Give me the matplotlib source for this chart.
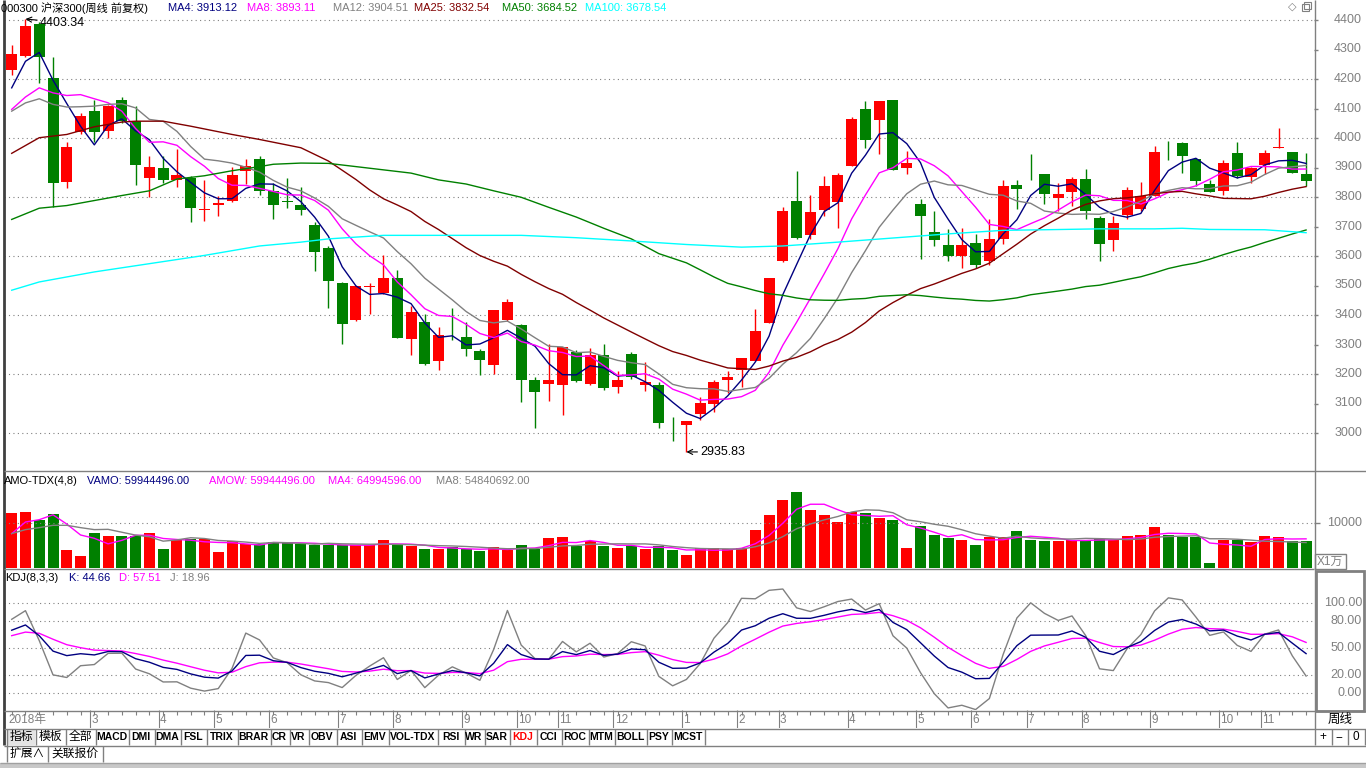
import numpy as np
import matplotlib
matplotlib.use('Agg')
import matplotlib.pyplot as plt
from matplotlib.patches import Rectangle

plt.rcParams['font.family'] = ['Liberation Sans', 'Noto Sans CJK SC', 'DejaVu Sans']

W, H = 1366, 768

# weekly bars, 000300 沪深300
opens = [4231, 4279, 4386, 4204, 3852, 4020, 4093, 4024, 4130, 4057,
         3865, 3898, 3856, 3866, 3757, 3774, 3788, 3889, 3928, 3820,
         3786, 3773, 3706, 3628, 3510, 3382, 3495, 3476, 3524, 3319,
         3375, 3245, 3344, 3325, 3278, 3232, 3383, 3365, 3180, 3167,
         3164, 3273, 3167, 3263, 3157, 3267, 3162, 3163, 3021, 3026,
         3063, 3100, 3178, 3212, 3245, 3374, 3582, 3785, 3670, 3757,
         3782, 3906, 4100, 4061, 4128, 3899, 3776, 3680, 3638, 3599,
         3645, 3582, 3658, 3840, 3900, 3878, 3798, 3818, 3861, 3729,
         3653, 3740, 3760, 3805, 3981, 3982, 3928, 3844, 3821, 3948,
         3869, 3909, 3966, 3951, 3878]
highs = [4316, 4403.34, 4394, 4274, 3988, 4085, 4130, 4113, 4139, 4108,
         3939, 3939, 3962, 3872, 3857, 3802, 3903, 3928, 3939, 3849,
         3864, 3833, 3715, 3634, 3512, 3497, 3507, 3602, 3554, 3432,
         3402, 3358, 3423, 3375, 3285, 3416, 3454, 3370, 3189, 3301,
         3293, 3282, 3288, 3301, 3209, 3276, 3241, 3172, 3054, 3040,
         3121, 3178, 3209, 3254, 3419, 3524, 3765, 3887, 3807, 3870,
         3880, 4072, 4124, 4124, 4128, 3956, 3793, 3751, 3692, 3696,
         3675, 3726, 3857, 3857, 3945, 3878, 3847, 3869, 3894, 3737,
         3737, 3833, 3852, 3973, 3989, 3987, 3928, 3858, 3925, 3987,
         3903, 3958, 4034, 3951, 3948]
lows = [4215, 4276, 4186, 3765, 3830, 4012, 3986, 4001, 4052, 3840,
        3799, 3847, 3833, 3715, 3720, 3737, 3782, 3844, 3807, 3726,
        3763, 3739, 3548, 3425, 3302, 3380, 3405, 3471, 3321, 3265,
        3232, 3215, 3316, 3262, 3198, 3201, 3378, 3105, 3016, 3108,
        3061, 3173, 3162, 3147, 3134, 3183, 3142, 3016, 2973, 2935.83,
        3044, 3072, 3136, 3155, 3245, 3374, 3578, 3658, 3656, 3737,
        3694, 3906, 3965, 3945, 3892, 3878, 3589, 3634, 3582, 3561,
        3560, 3571, 3642, 3760, 3858, 3776, 3751, 3771, 3724, 3582,
        3616, 3724, 3754, 3805, 3926, 3881, 3838, 3816, 3808, 3866,
        3849, 3878, 3966, 3883, 3838]
closes = [4285, 4380, 4273, 3846, 3968, 4073, 4020, 4110, 4057, 3909,
          3901, 3858, 3874, 3764, 3760, 3778, 3875, 3904, 3821, 3774,
          3784, 3757, 3612, 3515, 3370, 3497, 3497, 3527, 3321, 3409,
          3235, 3332, 3342, 3285, 3248, 3416, 3443, 3178, 3140, 3180,
          3293, 3175, 3264, 3153, 3180, 3189, 3173, 3035, 3020, 3040,
          3101, 3173, 3190, 3254, 3345, 3524, 3753, 3662, 3749, 3837,
          3874, 4063, 3993, 4124, 3892, 3915, 3734, 3653, 3599, 3636,
          3569, 3658, 3837, 3828, 3898, 3810, 3810, 3861, 3751, 3639,
          3712, 3824, 3802, 3952, 3980, 3939, 3854, 3818, 3915, 3872,
          3898, 3950, 3970, 3880, 3855]
# 成交额, 万
amount = [12158, 12302, 10719, 11942, 4101, 2806, 7841, 7122, 7122, 7266,
          7841, 4316, 6259, 6618, 6475, 3741, 6043, 5539, 5539, 5899,
          5899, 5395, 5180, 5180, 5180, 5180, 5180, 6259, 5180, 4964,
          4316, 4316, 4676, 4244, 3957, 4676, 4101, 5180, 4316, 6690,
          6978, 5036, 6043, 5000, 4565, 5000, 4350, 5000, 4130, 3040,
          4565, 4565, 4350, 4565, 8480, 11740, 15000, 16740, 12830, 11740,
          10220, 12390, 12170, 11090, 10650, 4565, 9350, 7390, 6740, 6300,
          5220, 6960, 6960, 8260, 6300, 6090, 6090, 6300, 6300, 6520,
          6300, 7170, 7390, 9130, 7390, 6960, 6960, 1300, 6300, 6300,
          5870, 7170, 6960, 6090, 5994]

# MA values at the left edge (their windows reach before the first bar)
ma4_head = [4170, 4260, 4290]
ma8_head = [4097, 4139, 4170, 4153, 4144, 4147, 4133]
ma12_head = [4091, 4119, 4133, 4114, 4105, 4106, 4108, 4114, 4116, 4102, 4063]
ma25_idx = [0, 2, 4, 6, 8, 9, 11, 13, 16, 18, 21, 23]
ma25_val = [3948, 4001, 4012, 4038, 4054, 4057, 4057, 4040, 4012, 3995, 3967, 3922]
ma50_idx = [0, 2, 4, 6, 8, 10, 12, 14, 16, 18, 19, 21, 23, 25, 27, 29, 31, 33,
            35, 37, 39, 41, 43, 45, 47]
ma50_val = [3724, 3762, 3771, 3788, 3805, 3821, 3861, 3872, 3889, 3903, 3911,
            3915, 3914, 3903, 3892, 3881, 3858, 3844, 3821, 3799, 3765, 3732,
            3694, 3658, 3608]
ma100_idx = [0, 2, 6, 10, 14, 18, 21, 23, 25, 27, 29, 33, 37, 41, 45, 49, 53,
             56, 60, 64, 68, 72, 75, 79, 83, 85, 87, 91, 94]
ma100_val = [3484, 3512, 3546, 3574, 3602, 3634, 3647, 3658, 3664, 3670, 3670,
             3670, 3670, 3662, 3651, 3639, 3630, 3634, 3647, 3661, 3675, 3687,
             3689, 3692, 3692, 3694, 3690, 3689, 3679]
amo4_head = [7698, 10215, 10719]
amo8_head = [7698, 8561, 8993, 9496, 9496, 8993, 8561]
kdj_start = (70.5, 61.0)

month_idx = [0, 6, 11, 15, 19, 24, 28, 33, 37, 40, 44, 49, 53, 56, 61, 66, 70,
             74, 78, 83, 88, 91]
month_lbl = ['2018年', '3', '4', '5', '6', '7', '8', '9', '10', '11', '12',
             '1', '2', '3', '4', '5', '6', '7', '8', '9', '10', '11']

tabs = ['指标', '模板', '全部', 'MACD', 'DMI', 'DMA', 'FSL', 'TRIX', 'BRAR', 'CR',
        'VR', 'OBV', 'ASI', 'EMV', 'VOL-TDX', 'RSI', 'WR', 'SAR', 'KDJ', 'CCI',
        'ROC', 'MTM', 'BOLL', 'PSY', 'MCST']
tab_edges = [7, 35, 65, 95, 128, 154, 180, 206, 237, 270, 289, 308, 336, 361,
             388, 437, 464, 484, 509, 536, 561, 588, 614, 646, 671, 704]

RED = '#ff0000'
GREEN = '#008000'
GRAY = '#808080'

o = np.array(opens, float)
h = np.array(highs, float)
l = np.array(lows, float)
c = np.array(closes, float)
amo = np.array(amount, float)
n = len(c)
x = np.arange(n)
up = c >= o
cols = np.where(up, RED, GREEN)


def rolling(v, k, head):
    out = [np.nan] * len(v)
    for i in range(len(head)):
        out[i] = head[i]
    for i in range(k - 1, len(v)):
        out[i] = v[i - k + 1:i + 1].mean()
    return np.array(out)


def ma_pts(v, k, idx, val):
    xs = list(idx)
    ys = list(val)
    for i in range(k - 1, len(v)):
        xs.append(i)
        ys.append(v[i - k + 1:i + 1].mean())
    return xs, ys


def box(x0, y0, x1, y1):
    return [x0 / W, 1 - y1 / H, (x1 - x0) / W, (y1 - y0) / H]


# pixel -> data scales
X0, DX = 11.7, 13.77
xlim = ((4 - X0) / DX, (1314 - X0) / DX)


def pr(y):
    return 4400 - (y - 20) * 200 / 59.0


def vol(y):
    return (569 - y) * 10000 / 46.0


def kd(y):
    return (693.3 - y) / 0.9


fig = plt.figure(figsize=(W / 100, H / 100), dpi=100)
fig.patch.set_facecolor('white')

ax = fig.add_axes(box(4, 0, 1314, 470))
av = fig.add_axes(box(4, 470, 1314, 568))
ak = fig.add_axes(box(4, 568, 1314, 710))
ad = fig.add_axes(box(4, 710, 1314, 728))
for a in (ax, av, ak, ad):
    a.set_xlim(*xlim)
    a.axis('off')
ax.set_ylim(pr(470), pr(0))
av.set_ylim(vol(568), vol(470))
ak.set_ylim(kd(710), kd(568))
ad.set_ylim(1, 0)

dot = dict(color=GRAY, lw=0.8, ls=(0, (1, 3)))

# ---- price pane
for p in range(3000, 4401, 200):
    ax.axhline(p, **dot)
ax.vlines(x, l, h, colors=cols, lw=1, zorder=3)
body = np.abs(c - o)
ax.bar(x, np.maximum(body, 1.0), bottom=np.minimum(o, c), width=0.8,
       color=cols, zorder=4, linewidth=0)

ax.plot(x, rolling(c, 4, ma4_head), color='#000080', lw=1, zorder=5)
ax.plot(x, rolling(c, 8, ma8_head), color='#ff00ff', lw=1, zorder=5)
ax.plot(x, rolling(c, 12, ma12_head), color=GRAY, lw=1, zorder=5)
xs, ys = ma_pts(c, 25, ma25_idx, ma25_val)
ax.plot(xs, ys, color='#800000', lw=1, zorder=5)
xs, ys = ma_pts(c, 50, ma50_idx, ma50_val)
ax.plot(xs, ys, color=GREEN, lw=1, zorder=5)
ax.plot(ma100_idx, ma100_val, color='#00ffff', lw=1, zorder=5)

imax = int(np.argmax(h))
imin = int(np.argmin(l))
ax.annotate('%.2f' % h[imax], xy=(imax, h[imax]), xytext=(imax + 1.05, h[imax] - 12),
            fontsize=9, va='center', ha='left',
            arrowprops=dict(arrowstyle='->', color='black', lw=0.8, shrinkA=0, shrinkB=0))
ax.annotate('%.2f' % l[imin], xy=(imin, l[imin]), xytext=(imin + 1.0, l[imin]),
            fontsize=9, va='center', ha='left',
            arrowprops=dict(arrowstyle='->', color='black', lw=0.8, shrinkA=0, shrinkB=0))

# ---- amount pane
av.axhline(10000, **dot)
av.bar(x, amo, width=0.8, color=cols, linewidth=0)
av.plot(x, rolling(amo, 4, amo4_head), color='#ff00ff', lw=1)
av.plot(x, rolling(amo, 8, amo8_head), color=GRAY, lw=1)

# ---- KDJ(8,3,3)
kk, dd = kdj_start
K, D = [], []
for i in range(n):
    lo = l[max(0, i - 7):i + 1].min()
    hi = h[max(0, i - 7):i + 1].max()
    rsv = (c[i] - lo) / (hi - lo) * 100
    kk = (2 * kk + rsv) / 3
    dd = (2 * dd + kk) / 3
    K.append(kk)
    D.append(dd)
K = np.array(K)
D = np.array(D)
J = 3 * K - 2 * D
for v in (0, 20, 50, 80, 100):
    ak.axhline(v, **dot)
ak.plot(x, J, color=GRAY, lw=1)
ak.plot(x, D, color='#ff00ff', lw=1)
ak.plot(x, K, color='#000080', lw=1)

# ---- date row
ad.vlines(x, 0.05, 0.25, color=GRAY, lw=0.8)
for i, t in zip(month_idx, month_lbl):
    xx = i - 0.3 if i else xlim[0] + 0.25
    if i:
        ad.vlines(xx, 0, 1, color=GRAY, lw=0.8)
    ad.text(xx + 0.08, 0.55, t, fontsize=8.5, color=GRAY, va='center', ha='left')

# ---- overlay in pixel coordinates
ov = fig.add_axes([0, 0, 1, 1], zorder=10)
ov.set_xlim(0, W)
ov.set_ylim(H, 0)
ov.axis('off')
ov.patch.set_alpha(0)


def seg(x0, y0, x1, y1, color=GRAY, lw=1):
    ov.plot([x0, x1], [y0, y1], color=color, lw=lw, solid_capstyle='butt')


seg(3.5, 0, 3.5, 745, color='#404040', lw=2)
seg(1314.5, 0, 1314.5, 745)
seg(4, 470.5, W, 470.5)
seg(4, 568.5, 1314, 568.5)
seg(4, 710.5, W, 710.5)
seg(4, 728.5, W, 728.5)
seg(4, 745.5, W, 745.5)
ov.add_patch(Rectangle((0, 763), W, 5, color='#c8c8c8', lw=0))
seg(0, 762.5, W, 762.5, color='#a0a0a0')

fs = 8
hdr = [(1, '000300 沪深300(周线 前复权)', 'black'),
       (168, 'MA4: 3913.12', '#000080'), (247, 'MA8: 3893.11', '#ff00ff'),
       (333, 'MA12: 3904.51', GRAY), (414, 'MA25: 3832.54', '#800000'),
       (502, 'MA50: 3684.52', GREEN), (585, 'MA100: 3678.54', '#00ffff')]
for xx, t, col in hdr:
    ov.text(xx, 8, t, fontsize=fs, color=col, va='center', ha='left')
hdr = [(4, 'AMO-TDX(4,8)', 'black'), (87, 'VAMO: 59944496.00', '#000080'),
       (209, 'AMOW: 59944496.00', '#ff00ff'), (328, 'MA4: 64994596.00', '#ff00ff'),
       (436, 'MA8: 54840692.00', GRAY)]
for xx, t, col in hdr:
    ov.text(xx, 481, t, fontsize=fs, color=col, va='center', ha='left')
hdr = [(5, 'KDJ(8,3,3)', 'black'), (69, 'K: 44.66', '#000080'),
       (119, 'D: 57.51', '#ff00ff'), (170, 'J: 18.96', GRAY)]
for xx, t, col in hdr:
    ov.text(xx, 578, t, fontsize=fs, color=col, va='center', ha='left')

# right axes
for p in range(3000, 4401, 100):
    y = 20 + (4400 - p) * 59.0 / 200
    seg(1314, y, 1318, y)
    ov.text(1362, y, str(p), fontsize=9, color=GRAY, va='center', ha='right')
seg(1314, 523, 1320, 523)
ov.text(1362, 523, '10000', fontsize=9, color=GRAY, va='center', ha='right')
ov.add_patch(Rectangle((1315, 554), 31, 15, fill=False, ec=GRAY, lw=1))
ov.text(1317, 561.5, 'X1万', fontsize=8.5, color=GRAY, va='center', ha='left')
ov.add_patch(Rectangle((1316, 571), 48, 140, fill=False, ec=GRAY, lw=2))
for v in (0, 20, 50, 80, 100):
    ov.text(1362, 693.3 - 0.9 * v, '%.2f' % v, fontsize=9, color=GRAY,
            va='center', ha='right')
ov.text(1340, 719.5, '周线', fontsize=9, color='black', va='center', ha='center')
for x0, x1, t in ((1315, 1331, '+'), (1331, 1347, '−'), (1347, 1364, '0')):
    seg(x1 + 0.5, 729, x1 + 0.5, 745)
    ov.text((x0 + x1) / 2, 737, t, fontsize=8.5, color='black', va='center', ha='center')
ov.text(1292, 7, '◇', fontsize=8, color=GRAY, va='center', ha='center',
        family='DejaVu Sans')
ov.add_patch(Rectangle((1302, 4), 7, 7, fill=False, ec=GRAY, lw=0.8))
ov.add_patch(Rectangle((1304, 2), 7, 7, fill=False, ec=GRAY, lw=0.8))

# tabs
ov.add_patch(Rectangle((tab_edges[0], 729), tab_edges[1] - tab_edges[0], 16,
                       color='#e4e4e4', lw=0))
for i, t in enumerate(tabs):
    x0, x1 = tab_edges[i], tab_edges[i + 1]
    seg(x1 + 0.5, 729, x1 + 0.5, 745)
    col = RED if t == 'KDJ' else 'black'
    ov.text((x0 + x1) / 2, 737, t, fontsize=8.5 if ord(t[0]) > 255 else 7.5,
            color=col, va='center', ha='center',
            weight='normal' if ord(t[0]) > 255 else 'bold')
seg(tab_edges[0] - 0.5, 729, tab_edges[0] - 0.5, 762)
for x0, x1, t in ((7, 47, '扩展∧'), (47, 102, '关联报价')):
    seg(x1 + 0.5, 746, x1 + 0.5, 762)
    ov.text((x0 + x1) / 2, 754, t, fontsize=8.5, color='black', va='center', ha='center')

fig.savefig('out.png', dpi=100)
